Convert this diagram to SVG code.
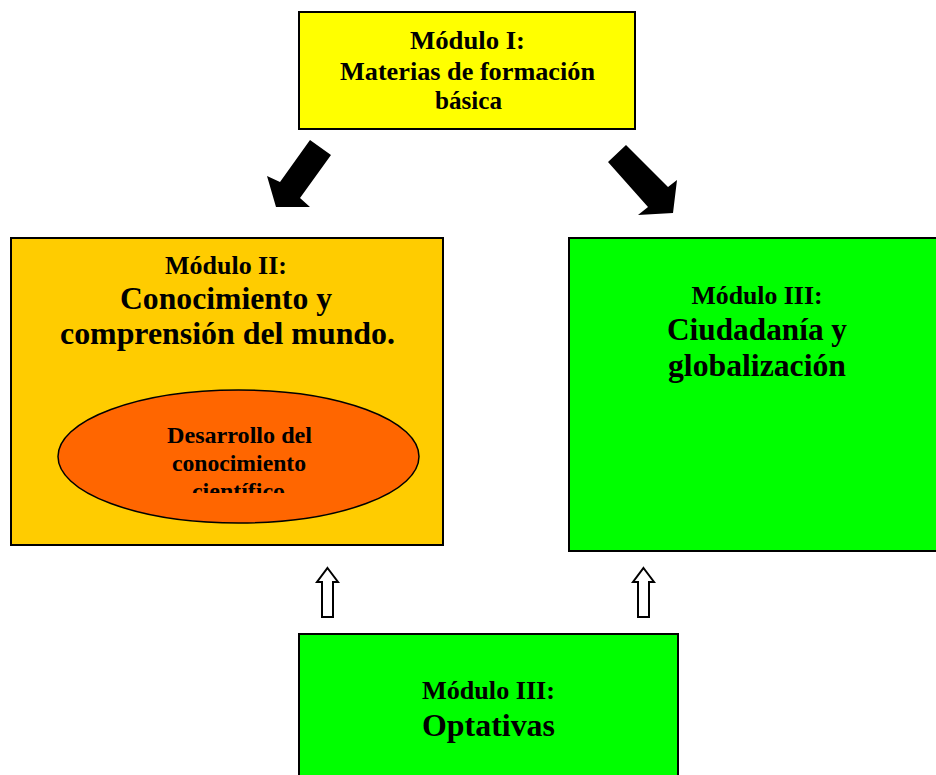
<svg xmlns="http://www.w3.org/2000/svg" width="936" height="775" viewBox="0 0 936 775">
<defs>
<style>
.box{stroke:#000;stroke-width:2}
.t{font-family:"Liberation Serif","Times New Roman",serif;font-weight:bold;fill:#000;text-anchor:middle}
.arrow{fill:#000;stroke:none}
.hollow{fill:#fff;stroke:#000;stroke-width:2;stroke-linejoin:miter}
</style>
<clipPath id="clipEll"><rect x="60" y="390" width="360" height="103"/></clipPath>
</defs>
<rect x="0" y="0" width="936" height="775" fill="#fff"/>

<g id="modulo1">
<rect class="box" x="299" y="12" width="336" height="117" fill="#FFFF00"/>
<text class="t" x="467.5" y="49" font-size="26" textLength="115" lengthAdjust="spacingAndGlyphs">Módulo I:</text>
<text class="t" x="467.5" y="80" font-size="26" textLength="255" lengthAdjust="spacingAndGlyphs">Materias de formación</text>
<text class="t" x="468.5" y="109" font-size="26" textLength="67" lengthAdjust="spacingAndGlyphs">básica</text>
</g>

<g id="modulo2">
<rect class="box" x="11" y="238" width="432" height="307" fill="#FFCC00"/>
<text class="t" x="226" y="274" font-size="26" textLength="122" lengthAdjust="spacingAndGlyphs">Módulo II:</text>
<text class="t" x="226" y="309" font-size="32" textLength="212" lengthAdjust="spacingAndGlyphs">Conocimiento y</text>
<text class="t" x="227.5" y="344" font-size="32" textLength="335" lengthAdjust="spacingAndGlyphs">comprensión del mundo.</text>
</g>

<g id="desarrollo">
<ellipse cx="238.5" cy="456.5" rx="180.5" ry="66.5" fill="#FF6600" stroke="#000" stroke-width="1.5"/>
<g clip-path="url(#clipEll)">
<text class="t" x="239.5" y="443" font-size="24" textLength="145" lengthAdjust="spacingAndGlyphs">Desarrollo del</text>
<text class="t" x="239" y="471" font-size="24" textLength="134" lengthAdjust="spacingAndGlyphs">conocimiento</text>
<text class="t" x="238.5" y="499" font-size="24" textLength="93" lengthAdjust="spacingAndGlyphs">científico</text>
</g>
</g>

<g id="modulo3">
<rect class="box" x="569" y="238" width="380" height="313" fill="#00FF00"/>
<text class="t" x="757" y="304" font-size="26" textLength="131" lengthAdjust="spacingAndGlyphs">Módulo III:</text>
<text class="t" x="757" y="340" font-size="32" textLength="180" lengthAdjust="spacingAndGlyphs">Ciudadanía y</text>
<text class="t" x="757" y="376" font-size="32" textLength="178" lengthAdjust="spacingAndGlyphs">globalización</text>
</g>

<g id="optativas">
<rect class="box" x="299" y="634" width="379" height="160" fill="#00FF00"/>
<text class="t" x="488.5" y="699" font-size="26" textLength="133" lengthAdjust="spacingAndGlyphs">Módulo III:</text>
<text class="t" x="488.5" y="736" font-size="32" textLength="133" lengthAdjust="spacingAndGlyphs">Optativas</text>
</g>

<g id="connectors">
<polygon class="arrow" points="310,140 331,155 300,198 310,207 276,207 267,176 280,182"/>
<polygon class="arrow" points="626,145 668,187 677,180 673,213 638,215 648,207 608,162"/>
<polygon class="hollow" points="327.5,568 338,582 333,582 333,617 322,617 322,582 317,582"/>
<polygon class="hollow" points="643.5,568 654,582 649,582 649,617 638,617 638,582 633,582"/>
</g>
</svg>
